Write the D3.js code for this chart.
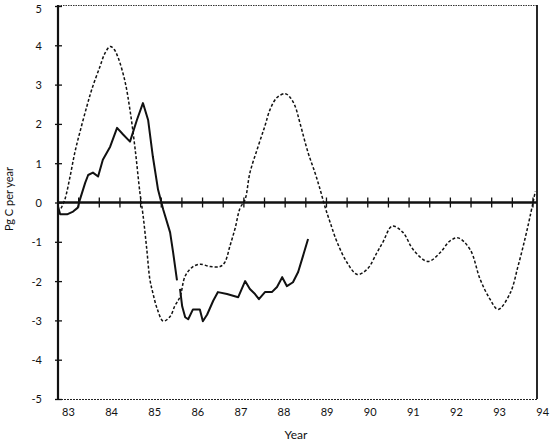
<!DOCTYPE html>
<html><head><meta charset="utf-8">
<script src="https://cdn.jsdelivr.net/npm/d3@7"></script>
<style>body{margin:0;background:#fff}svg{display:block}text{font-family:Lato,"Open Sans",sans-serif;fill:#111}</style>
</head><body>
<script>
// ---- data (years as decimal, values in Pg C per year) ----
const dashedYears = [82.84,82.93,83.05,83.16,83.28,83.44,83.56,83.74,83.86,83.98,84.07,84.16,84.32,84.44,84.56,84.67,84.74,84.83,84.90,84.97,85.07,85.21,85.37,85.48,85.60,85.72,85.88,86.06,86.30,86.53,86.64,86.76,86.88,86.99,87.11,87.22,87.41,87.57,87.69,87.85,88.04,88.15,88.27,88.38,88.57,88.73,88.85,88.96,89.08,89.24,89.47,89.71,89.94,90.17,90.31,90.52,90.77,91.01,91.35,91.63,91.86,92.05,92.33,92.56,92.79,92.98,93.26,93.44,93.60,93.72,93.84];
const dashedValues = [-0.15,0.08,0.66,1.27,1.8,2.45,2.9,3.45,3.8,3.97,3.9,3.7,3.1,2.35,1.35,0.25,-0.3,-1.2,-1.95,-2.3,-2.7,-3.02,-2.9,-2.63,-2.4,-1.87,-1.65,-1.57,-1.63,-1.63,-1.52,-1.1,-0.65,-0.15,0.08,0.75,1.42,1.95,2.37,2.67,2.77,2.68,2.45,2.03,1.27,0.76,0.33,-0.1,-0.5,-1.0,-1.52,-1.83,-1.7,-1.27,-1.0,-0.6,-0.76,-1.2,-1.5,-1.28,-0.98,-0.9,-1.2,-1.95,-2.46,-2.72,-2.3,-1.62,-0.93,-0.35,0.28];

const solidYearsA = [82.77,82.82,82.98,83.12,83.23,83.28,83.40,83.47,83.58,83.70,83.81,83.98,84.14,84.28,84.44,84.60,84.74,84.86,84.97,85.09,85.21,85.37,85.44,85.53];
const solidValuesA = [-0.1,-0.3,-0.3,-0.23,-0.13,0.08,0.5,0.7,0.76,0.66,1.09,1.42,1.9,1.73,1.55,2.1,2.53,2.1,1.17,0.33,-0.18,-0.76,-1.27,-1.98];

const solidYearsB = [85.60,85.65,85.72,85.79,85.90,86.06,86.13,86.23,86.37,86.48,86.69,86.95,87.11,87.22,87.34,87.43,87.57,87.73,87.85,87.97,88.08,88.22,88.34,88.45,88.57];
const solidValuesB = [-2.2,-2.64,-2.92,-2.97,-2.72,-2.72,-3.02,-2.85,-2.5,-2.28,-2.33,-2.41,-2.0,-2.2,-2.33,-2.46,-2.28,-2.28,-2.15,-1.9,-2.13,-2.03,-1.77,-1.37,-0.93];

const xTickLabels = ["83","84","85","86","87","88","89","90","91","92","93","94"];
const xTickYears = [83,84,85,86,87,88,89,90,91,92,93,94];
const yTickValues = [-5,-4,-3,-2,-1,0,1,2,3,4,5];
const zeroLineTicks = d3.range(24).map(k => 82.77 + k * 0.479);

// ---- layout ----
const W = 550, H = 441;
const svg = d3.select("body").append("svg").attr("width", W).attr("height", H);

const x = d3.scaleLinear().domain([82.77, 93.88]).range([58, 537]);
const y = d3.scaleLinear().domain([-5, 5]).range([399, 6]);

// frame: top & bottom dotted thin, right solid
svg.append("line").attr("x1", 58).attr("x2", 537).attr("y1", 5.5).attr("y2", 5.5)
  .attr("stroke", "#333").attr("stroke-width", 1).attr("stroke-dasharray", "1.5,1");
svg.append("line").attr("x1", 58).attr("x2", 537).attr("y1", 399.5).attr("y2", 399.5)
  .attr("stroke", "#222").attr("stroke-width", 1.2).attr("stroke-dasharray", "2,1");
svg.append("line").attr("x1", 537).attr("x2", 537).attr("y1", 5).attr("y2", 399)
  .attr("stroke", "#111").attr("stroke-width", 1.8);

// y axis
const yAxis = svg.append("g").attr("transform", "translate(58,0)")
  .call(d3.axisLeft(y).tickValues(yTickValues).tickFormat(d => String(d)).tickSize(3).tickPadding(13));
yAxis.select(".domain").remove();
yAxis.selectAll(".tick line").attr("x1", -3).attr("x2", 4).attr("stroke", "#111").attr("stroke-width", 1.3);
yAxis.selectAll(".tick text").attr("font-size", 11).attr("font-family", "Lato, sans-serif")
  .attr("fill", "#111").attr("dy", d => d === 5 ? "0.6em" : "0.36em");
svg.append("line").attr("x1", 58).attr("x2", 58).attr("y1", 5).attr("y2", 399.5)
  .attr("stroke", "#111").attr("stroke-width", 2.2);

// x axis labels
const xAxis = svg.append("g").attr("transform", "translate(0,399)")
  .call(d3.axisBottom(x).tickValues(xTickYears).tickFormat((d, i) => xTickLabels[i]).tickSize(0).tickPadding(9));
xAxis.select(".domain").remove();
xAxis.selectAll(".tick text").attr("font-size", 11).attr("font-family", "Lato, sans-serif").attr("fill", "#111");

// zero line with minor ticks
svg.append("line").attr("x1", 58).attr("x2", 537).attr("y1", y(0)).attr("y2", y(0))
  .attr("stroke", "#111").attr("stroke-width", 2.4);
svg.append("g").selectAll("line").data(zeroLineTicks).join("line")
  .attr("x1", d => x(d)).attr("x2", d => x(d))
  .attr("y1", y(0) - 5).attr("y2", y(0) + 5)
  .attr("stroke", "#111").attr("stroke-width", 1.3);

// series
const pts = (xs, vs) => xs.map((d, i) => [d, vs[i]]);
const lineSmooth = d3.line().x(d => x(d[0])).y(d => y(d[1])).curve(d3.curveCatmullRom.alpha(0.5));
const lineRough = d3.line().x(d => x(d[0])).y(d => y(d[1])).curve(d3.curveLinear);

svg.append("path").attr("d", lineSmooth(pts(dashedYears, dashedValues)))
  .attr("fill", "none").attr("stroke", "#111").attr("stroke-width", 1.5).attr("stroke-dasharray", "3,2");
svg.append("path").attr("d", lineRough(pts(solidYearsA, solidValuesA)))
  .attr("fill", "none").attr("stroke", "#111").attr("stroke-width", 2).attr("stroke-linejoin", "round");
svg.append("path").attr("d", lineRough(pts(solidYearsB, solidValuesB)))
  .attr("fill", "none").attr("stroke", "#111").attr("stroke-width", 2).attr("stroke-linejoin", "round");

// axis titles
svg.append("text").attr("x", 296).attr("y", 439).attr("text-anchor", "middle")
  .attr("font-size", 12).text("Year");
svg.append("text").attr("transform", "translate(13,199) rotate(-90)").attr("text-anchor", "middle")
  .attr("font-size", 11).text("Pg C per year");
</script>
</body></html>
